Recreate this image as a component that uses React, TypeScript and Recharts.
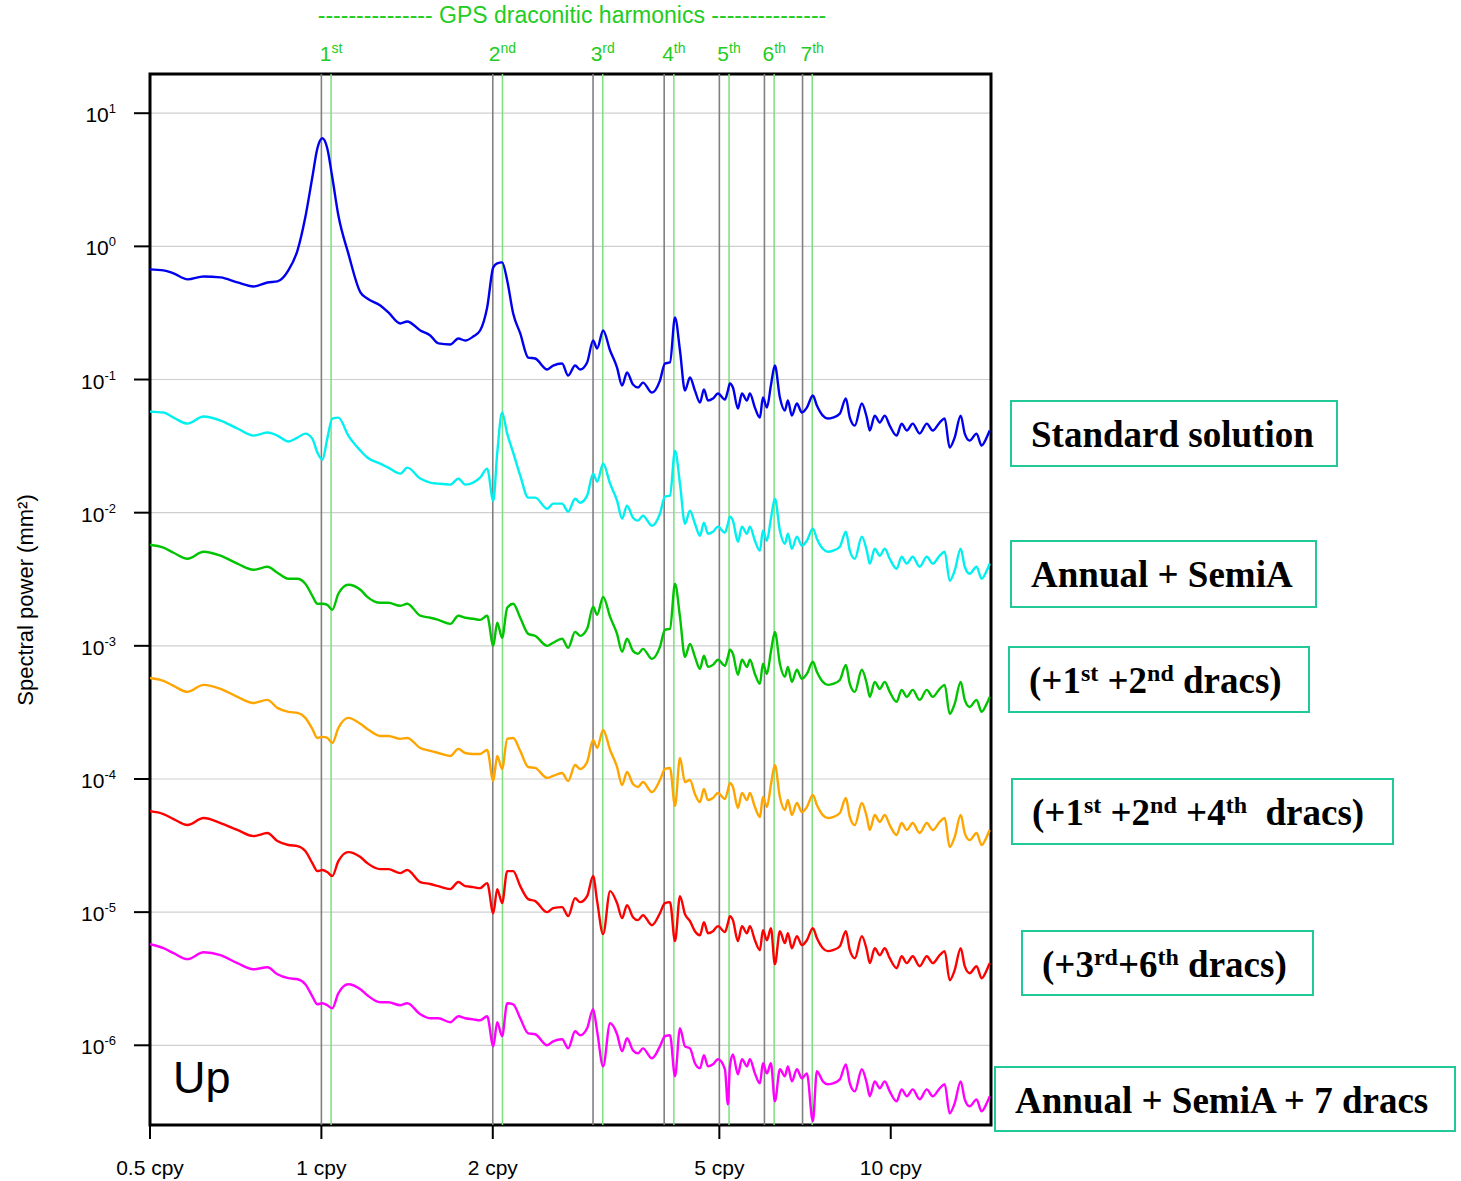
import {
  CartesianGrid, Line, LineChart, ReferenceArea, ReferenceLine, XAxis, YAxis,
} from "recharts";

const freqs = [
  0.500, 0.528, 0.550, 0.582, 0.621, 0.665, 0.712, 0.760, 0.804, 0.837,
  0.875, 0.908, 0.937, 0.964, 0.984, 1.004, 1.024, 1.045, 1.071, 1.115,
  1.171, 1.204, 1.269, 1.311, 1.376, 1.415, 1.492, 1.553, 1.605, 1.684,
  1.740, 1.789, 1.848, 1.900, 1.955, 2.004, 2.036, 2.077, 2.120, 2.172,
  2.235, 2.308, 2.374, 2.492, 2.553, 2.647, 2.713, 2.790, 2.847, 2.929,
  3.001, 3.050, 3.125, 3.214, 3.306, 3.374, 3.442, 3.526, 3.598, 3.671,
  3.807, 3.932, 4.012, 4.095, 4.179, 4.264, 4.351, 4.440, 4.530, 4.623,
  4.698, 4.775, 4.872, 4.972, 5.114, 5.176, 5.218, 5.282, 5.390, 5.478,
  5.590, 5.658, 5.773, 5.891, 5.963, 6.060, 6.159, 6.259, 6.387, 6.517,
  6.597, 6.704, 6.841, 6.981, 7.123, 7.298, 7.417, 7.599, 7.754, 7.912,
  8.139, 8.340, 8.475, 8.648, 8.896, 9.078, 9.188, 9.374, 9.566, 9.761,
  9.959, 10.24, 10.45, 10.67, 10.93, 11.24, 11.57, 11.85, 12.19, 12.44,
  12.69, 12.95, 13.27, 13.49, 13.76, 14.15, 14.44, 14.74, 14.92,
];

// log10 of spectral power (mm^2), one list per solution.
const logStandard = [
  -0.173, -0.180, -0.203, -0.248, -0.226, -0.233, -0.271, -0.301, -0.271, -0.263,
  -0.180, -0.030, 0.218, 0.519, 0.737, 0.812, 0.737, 0.519, 0.233, -0.053,
  -0.346, -0.391, -0.444, -0.496, -0.579, -0.564, -0.632, -0.669, -0.729, -0.737,
  -0.692, -0.707, -0.677, -0.632, -0.459, -0.158, -0.128, -0.120, -0.256, -0.504,
  -0.654, -0.835, -0.842, -0.925, -0.895, -0.880, -0.970, -0.895, -0.925, -0.872,
  -0.707, -0.767, -0.632, -0.782, -0.910, -1.045, -0.947, -1.038, -1.060, -1.023,
  -1.098, -1.008, -0.880, -0.872, -0.534, -0.782, -1.083, -0.985, -1.083, -1.173,
  -1.075, -1.158, -1.143, -1.105, -1.150, -1.083, -1.030, -1.060, -1.218, -1.105,
  -1.158, -1.105, -1.211, -1.286, -1.135, -1.211, -1.045, -0.895, -1.135, -1.233,
  -1.158, -1.271, -1.180, -1.248, -1.211, -1.120, -1.195, -1.271, -1.293, -1.286,
  -1.256, -1.143, -1.286, -1.346, -1.180, -1.286, -1.383, -1.271, -1.323, -1.271,
  -1.346, -1.421, -1.331, -1.383, -1.331, -1.406, -1.331, -1.383, -1.323, -1.293,
  -1.511, -1.436, -1.271, -1.406, -1.459, -1.406, -1.496, -1.436, -1.383,
];

const logAnnualSemi = [
  -1.241, -1.248, -1.286, -1.331, -1.278, -1.308, -1.368, -1.421, -1.398, -1.421,
  -1.466, -1.436, -1.406, -1.444, -1.549, -1.602, -1.444, -1.293, -1.286, -1.421,
  -1.534, -1.586, -1.632, -1.662, -1.707, -1.662, -1.744, -1.774, -1.782, -1.789,
  -1.744, -1.789, -1.774, -1.737, -1.669, -1.910, -1.556, -1.248, -1.406, -1.549,
  -1.722, -1.887, -1.887, -1.970, -1.932, -1.932, -1.992, -1.895, -1.925, -1.872,
  -1.707, -1.767, -1.632, -1.782, -1.910, -2.045, -1.947, -2.038, -2.060, -2.023,
  -2.098, -2.008, -1.880, -1.872, -1.534, -1.782, -2.083, -1.985, -2.083, -2.173,
  -2.075, -2.158, -2.143, -2.105, -2.150, -2.083, -2.030, -2.060, -2.218, -2.105,
  -2.158, -2.105, -2.211, -2.286, -2.135, -2.211, -2.045, -1.895, -2.135, -2.233,
  -2.158, -2.271, -2.180, -2.248, -2.211, -2.120, -2.195, -2.271, -2.293, -2.286,
  -2.256, -2.143, -2.286, -2.346, -2.180, -2.286, -2.383, -2.271, -2.323, -2.271,
  -2.346, -2.421, -2.331, -2.383, -2.331, -2.406, -2.331, -2.383, -2.323, -2.293,
  -2.511, -2.436, -2.271, -2.406, -2.459, -2.406, -2.496, -2.436, -2.383,
];

const logDracs12 = [
  -2.241, -2.263, -2.301, -2.346, -2.293, -2.323, -2.383, -2.429, -2.406, -2.451,
  -2.496, -2.496, -2.534, -2.624, -2.684, -2.684, -2.692, -2.729, -2.609, -2.541,
  -2.579, -2.632, -2.677, -2.677, -2.699, -2.684, -2.774, -2.789, -2.805, -2.835,
  -2.774, -2.789, -2.797, -2.805, -2.774, -3.000, -2.827, -2.940, -2.714, -2.684,
  -2.789, -2.910, -2.925, -3.000, -2.977, -2.947, -3.015, -2.895, -2.925, -2.872,
  -2.707, -2.767, -2.632, -2.782, -2.910, -3.045, -2.947, -3.038, -3.060, -3.023,
  -3.098, -3.008, -2.880, -2.872, -2.534, -2.782, -3.083, -2.985, -3.083, -3.173,
  -3.075, -3.158, -3.143, -3.105, -3.150, -3.083, -3.030, -3.060, -3.218, -3.105,
  -3.158, -3.105, -3.211, -3.286, -3.135, -3.211, -3.045, -2.895, -3.135, -3.233,
  -3.158, -3.271, -3.180, -3.248, -3.211, -3.120, -3.195, -3.271, -3.293, -3.286,
  -3.256, -3.143, -3.286, -3.346, -3.180, -3.286, -3.383, -3.271, -3.323, -3.271,
  -3.346, -3.421, -3.331, -3.383, -3.331, -3.406, -3.331, -3.383, -3.323, -3.293,
  -3.511, -3.436, -3.271, -3.406, -3.459, -3.406, -3.496, -3.436, -3.383,
];

const logDracs124 = [
  -3.241, -3.263, -3.301, -3.346, -3.293, -3.323, -3.383, -3.429, -3.406, -3.466,
  -3.496, -3.504, -3.541, -3.624, -3.692, -3.684, -3.692, -3.729, -3.617, -3.541,
  -3.586, -3.624, -3.677, -3.677, -3.699, -3.692, -3.767, -3.789, -3.805, -3.827,
  -3.774, -3.805, -3.812, -3.812, -3.782, -4.015, -3.827, -3.925, -3.699, -3.692,
  -3.789, -3.910, -3.917, -3.992, -3.977, -3.955, -4.015, -3.895, -3.925, -3.872,
  -3.707, -3.767, -3.632, -3.782, -3.910, -4.045, -3.947, -4.038, -4.060, -4.023,
  -4.098, -4.008, -3.925, -3.917, -4.203, -3.842, -4.023, -4.008, -4.113, -4.173,
  -4.075, -4.158, -4.143, -4.105, -4.150, -4.083, -4.030, -4.060, -4.218, -4.105,
  -4.158, -4.105, -4.211, -4.286, -4.135, -4.211, -4.045, -3.895, -4.135, -4.233,
  -4.158, -4.271, -4.180, -4.248, -4.211, -4.120, -4.195, -4.271, -4.293, -4.286,
  -4.256, -4.143, -4.286, -4.346, -4.180, -4.286, -4.383, -4.271, -4.323, -4.271,
  -4.346, -4.421, -4.331, -4.383, -4.331, -4.406, -4.331, -4.383, -4.323, -4.293,
  -4.511, -4.436, -4.271, -4.406, -4.459, -4.406, -4.496, -4.436, -4.383,
];

const logDracs36 = [
  -4.241, -4.263, -4.301, -4.346, -4.293, -4.331, -4.383, -4.429, -4.406, -4.466,
  -4.496, -4.504, -4.541, -4.632, -4.692, -4.684, -4.699, -4.729, -4.617, -4.549,
  -4.586, -4.632, -4.677, -4.677, -4.707, -4.684, -4.774, -4.789, -4.805, -4.827,
  -4.774, -4.805, -4.812, -4.820, -4.782, -5.008, -4.827, -4.932, -4.692, -4.692,
  -4.805, -4.902, -4.917, -5.000, -4.970, -4.962, -5.030, -4.895, -4.925, -4.880,
  -4.729, -4.917, -5.165, -4.842, -4.932, -5.045, -4.947, -5.038, -5.060, -5.023,
  -5.098, -5.008, -4.932, -4.925, -5.218, -4.880, -5.015, -5.068, -5.143, -5.173,
  -5.075, -5.158, -5.143, -5.105, -5.150, -5.083, -5.030, -5.060, -5.218, -5.105,
  -5.158, -5.105, -5.211, -5.286, -5.135, -5.211, -5.120, -5.391, -5.143, -5.233,
  -5.158, -5.271, -5.180, -5.248, -5.211, -5.120, -5.195, -5.271, -5.293, -5.286,
  -5.256, -5.143, -5.286, -5.346, -5.180, -5.286, -5.383, -5.271, -5.323, -5.271,
  -5.346, -5.421, -5.331, -5.383, -5.331, -5.406, -5.331, -5.383, -5.323, -5.293,
  -5.511, -5.436, -5.271, -5.406, -5.459, -5.406, -5.496, -5.436, -5.383,
];

const logAll7 = [
  -5.241, -5.271, -5.308, -5.353, -5.301, -5.323, -5.383, -5.429, -5.414, -5.466,
  -5.496, -5.504, -5.541, -5.632, -5.692, -5.684, -5.699, -5.722, -5.609, -5.541,
  -5.579, -5.624, -5.677, -5.677, -5.699, -5.684, -5.767, -5.797, -5.797, -5.827,
  -5.782, -5.797, -5.805, -5.812, -5.782, -6.008, -5.827, -5.932, -5.684, -5.692,
  -5.797, -5.910, -5.917, -6.000, -5.970, -5.955, -6.023, -5.895, -5.925, -5.872,
  -5.729, -5.895, -6.158, -5.835, -5.917, -6.045, -5.947, -6.038, -6.060, -6.023,
  -6.098, -6.008, -5.932, -5.925, -6.233, -5.872, -6.008, -6.023, -6.135, -6.173,
  -6.075, -6.158, -6.143, -6.105, -6.180, -6.444, -6.158, -6.068, -6.218, -6.105,
  -6.158, -6.105, -6.211, -6.286, -6.135, -6.211, -6.135, -6.421, -6.180, -6.233,
  -6.158, -6.271, -6.180, -6.248, -6.211, -6.571, -6.195, -6.271, -6.293, -6.286,
  -6.256, -6.143, -6.286, -6.346, -6.180, -6.286, -6.383, -6.271, -6.323, -6.271,
  -6.346, -6.421, -6.331, -6.383, -6.331, -6.406, -6.331, -6.383, -6.323, -6.293,
  -6.511, -6.436, -6.271, -6.406, -6.459, -6.406, -6.496, -6.436, -6.383,
];

const freqTicks = [0.5, 1, 2, 5, 10];
const powerTicks = [10, 1, 0.1, 0.01, 0.001, 1e-4, 1e-5, 1e-6];
const integerFreqs = [1, 2, 3, 4, 5, 6, 7];
const dracHarmonics = [1.04, 2.08, 3.12, 4.16, 5.2, 6.24, 7.28];
const harmonicSuffixes = ["st", "nd", "rd", "th", "th", "th", "th"];

const legendLabels: [string, boolean?][][] = [
  [["Standard solution"]],
  [["Annual + SemiA"]],
  [["(+1"], ["st", true], [" +2"], ["nd", true], [" dracs)"]],
  [["(+1"], ["st", true], [" +2"], ["nd", true], [" +4"], ["th", true], ["  dracs)"]],
  [["(+3"], ["rd", true], ["+6"], ["th", true], [" dracs)"]],
  [["Annual + SemiA + 7 dracs"]],
];

const series = [
  { key: "standard", color: "#0000ee" },
  { key: "annualSemi", color: "#00f0f0" },
  { key: "dracs12", color: "#00c400" },
  { key: "dracs124", color: "#ffa500" },
  { key: "dracs36", color: "#ff0000" },
  { key: "all7", color: "#ff00ff" },
];

const rows = freqs.map((f, i) => ({
  f,
  standard: 10 ** logStandard[i],
  annualSemi: 10 ** logAnnualSemi[i],
  dracs12: 10 ** logDracs12[i],
  dracs124: 10 ** logDracs124[i],
  dracs36: 10 ** logDracs36[i],
  all7: 10 ** logAll7[i],
}));

// box layout on the right-hand side, one per curve
const legendBoxes = [
  { x: 1011, y: 401, w: 326, h: 65 },
  { x: 1011, y: 541, w: 305, h: 66 },
  { x: 1009, y: 647, w: 300, h: 65 },
  { x: 1012, y: 779, w: 381, h: 65 },
  { x: 1022, y: 931, w: 291, h: 64 },
  { x: 995, y: 1067, w: 460, h: 64 },
];

const Y_DOMAIN: [number, number] = [2.52e-7, 19.7];
const SANS = "'Liberation Sans', Arial, Helvetica, sans-serif";
const SERIF = "'Liberation Serif', 'Times New Roman', serif";

function PowerTick({ x, y, payload }: any) {
  const exp = Math.round(Math.log10(payload.value));
  return (
    <text x={x} y={y + 9} textAnchor="end" fontSize={21} fill="#000" fontFamily={SANS}>
      10<tspan fontSize={13} dy={-9}>{exp}</tspan>
    </text>
  );
}

function HarmonicLabel({ viewBox, n, suffix }: any) {
  const x = viewBox?.x ?? 0;
  return (
    <text x={x} y={61} textAnchor="middle" fill="#22cc22" fontSize={21} fontFamily={SANS}>
      {n}<tspan fontSize={14} dy={-8}>{suffix}</tspan>
    </text>
  );
}

function LegendBox({ box, parts }: any) {
  let raised = false;
  return (
    <g>
      <rect x={box.x} y={box.y} width={box.w} height={box.h} fill="#fff" stroke="#20c997" strokeWidth={2} />
      <text x={box.x + 20} y={box.y + 46} fontSize={37} fontWeight="bold" fontFamily={SERIF}
        fill="#000" style={{ whiteSpace: "pre" }}>
        {parts.map(([t, sup]: [string, boolean?], i: number) => {
          let dy = 0;
          if (sup && !raised) dy = -12;
          if (!sup && raised) dy = 12;
          raised = !!sup;
          return (
            <tspan key={i} dy={dy} fontSize={sup ? 24 : 37}>{t}</tspan>
          );
        })}
      </text>
    </g>
  );
}

export default function App() {
  return (
    <div style={{ position: "absolute", left: 0, top: 0, width: 1461, height: 1181, background: "#fff", fontFamily: SANS }}>
      <LineChart width={1461} height={1181} data={rows}
        margin={{ top: 74, right: 470, bottom: 0, left: 60 }}>
        <CartesianGrid vertical={false} stroke="#cfcfcf" strokeWidth={1.2} />
        <XAxis dataKey="f" type="number" scale="log" domain={[0.5, 15]} allowDataOverflow
          ticks={freqTicks} tickFormatter={(v) => `${v} cpy`} height={56}
          axisLine={false} tickLine={{ stroke: "#000", strokeWidth: 2 }} tickSize={14} tickMargin={21}
          tick={{ fill: "#000", fontSize: 21 }} />
        <YAxis type="number" scale="log" domain={Y_DOMAIN} allowDataOverflow ticks={powerTicks}
          width={90} axisLine={false} tickLine={{ stroke: "#000", strokeWidth: 2 }}
          tickSize={16} tickMargin={18} tick={<PowerTick />} />
        {integerFreqs.map((f) => (
          <ReferenceLine key={`i${f}`} x={f} stroke="#808080" strokeWidth={1.6} />
        ))}
        {dracHarmonics.map((f, i) => (
          <ReferenceLine key={`d${f}`} x={f} stroke="#7ddf7d" strokeWidth={1.5}
            label={<HarmonicLabel n={i + 1} suffix={harmonicSuffixes[i]} />} />
        ))}
        {series.map((s) => (
          <Line key={s.key} type="monotone" dataKey={s.key} stroke={s.color} strokeWidth={2.4}
            strokeLinejoin="round" dot={false} activeDot={false} isAnimationActive={false} />
        ))}
        <ReferenceArea x1={0.5} x2={15} y1={Y_DOMAIN[0]} y2={Y_DOMAIN[1]} fill="none"
          fillOpacity={0} stroke="#000" strokeWidth={3} ifOverflow="visible" />
      </LineChart>
      <svg width={1461} height={1181} style={{ position: "absolute", left: 0, top: 0, pointerEvents: "none" }}>
        <text x={572} y={23} textAnchor="middle" fill="#22cc22" fontSize={23} fontFamily={SANS}>
          --------------- GPS draconitic harmonics ---------------
        </text>
        <text x={0} y={0} transform="translate(25 600) rotate(-90)" textAnchor="middle"
          dominantBaseline="central" fontSize={22} fontFamily={SANS} fill="#000">
          Spectral power (mm²)
        </text>
        <text x={173} y={1093} fontSize={45} fontFamily={SANS} fill="#000">Up</text>
        {legendBoxes.map((b, i) => (
          <LegendBox key={i} box={b} parts={legendLabels[i]} />
        ))}
      </svg>
    </div>
  );
}
